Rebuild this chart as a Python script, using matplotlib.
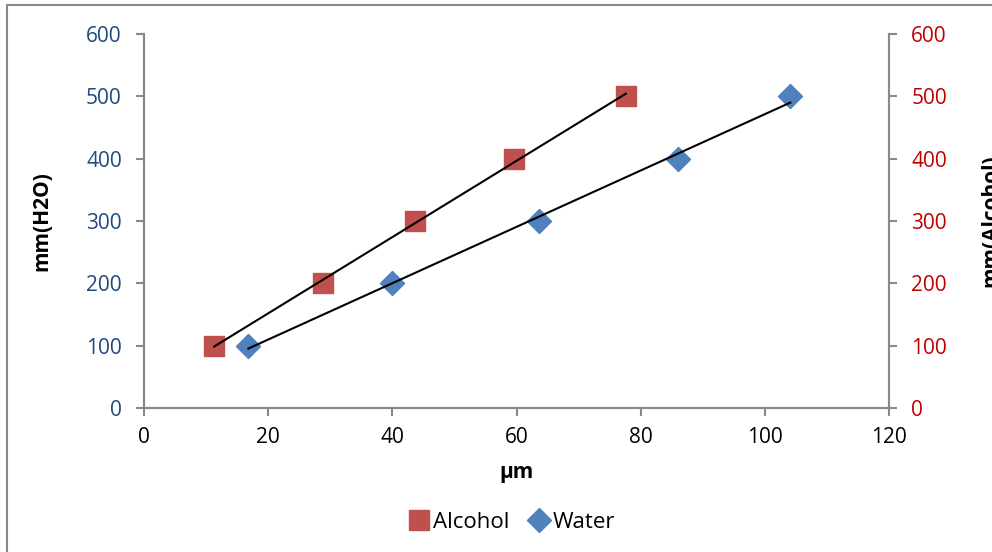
import matplotlib.pyplot as plt
import numpy as np
from matplotlib.patches import Rectangle
from matplotlib.lines import Line2D

alcohol_x = [11.3, 28.9, 43.7, 59.6, 77.6]
alcohol_y = [100, 200, 300, 400, 500]
water_x = [16.8, 39.9, 63.6, 86.0, 104.1]
water_y = [100, 200, 300, 400, 500]

red = '#C0504D'
blue = '#4F81BD'
grey = '#898989'

plt.rcParams['font.family'] = ['Open Sans', 'DejaVu Sans']

fig = plt.figure(figsize=(9.92, 5.52), dpi=100)
ax = fig.add_axes([0.1452, 0.2609, 0.751, 0.6775])
ax2 = ax.twinx()

# figure frame (cropped on right and bottom)
fig.patches.append(Rectangle((7/992, -0.1), 1.2, 1 - 5/552 + 0.1, transform=fig.transFigure,
                             fill=False, edgecolor=grey, lw=1.5))

ax.scatter(water_x, water_y, marker='D', s=150, color=blue, zorder=3)
ax2.scatter(alcohol_x, alcohol_y, marker='s', s=210, color=red, zorder=3)

# linear trendlines
for xs, ys, a in [(water_x, water_y, ax), (alcohol_x, alcohol_y, ax2)]:
    k, b = np.polyfit(xs, ys, 1)
    xx = np.array([min(xs), max(xs)])
    a.plot(xx, k * xx + b, color='black', lw=1.5, zorder=4)

for a in (ax, ax2):
    a.set_xlim(0, 120)
    a.set_ylim(0, 600)
    a.set_yticks(range(0, 601, 100))
    a.spines['top'].set_visible(False)
    for s in ['left', 'right', 'bottom']:
        a.spines[s].set_color(grey)
        a.spines[s].set_linewidth(1.5)

ax.set_xticks(range(0, 121, 20))
ax.tick_params(axis='x', colors=grey, labelcolor='black', labelsize=15, length=6, width=1.5, pad=8)
ax.tick_params(axis='y', colors=grey, labelcolor='#1F497D', labelsize=15, length=6, width=1.5, pad=10)
ax2.tick_params(axis='y', colors=grey, labelcolor='#C00000', labelsize=15, length=6, width=1.5, pad=10)

ax.set_xlabel('µm', fontsize=15, fontweight='bold', labelpad=10)
ax.set_ylabel('mm(H2O)', fontsize=15, fontweight='bold', labelpad=24)
ax2.set_ylabel('mm(Alcohol)', fontsize=15, fontweight='bold', labelpad=24, rotation=90)

handles = [Line2D([], [], marker='s', color=red, ls='none', markersize=15),
           Line2D([], [], marker='D', color=blue, ls='none', markersize=12)]
fig.legend(handles, ['Alcohol', 'Water'], loc='center', bbox_to_anchor=(0.515, 0.053),
           ncol=2, frameon=False, fontsize=16, handletextpad=0.05, columnspacing=0.8,
           handlelength=1.1)

fig.savefig('out.png', dpi=100)
